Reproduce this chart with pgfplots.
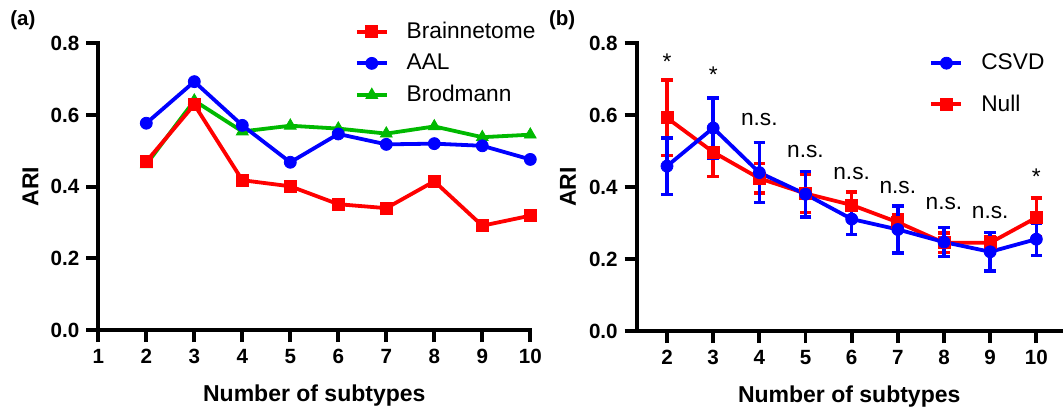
\documentclass[border=0pt]{standalone}
\usepackage{pgfplots}
\pgfplotsset{compat=1.18}
\usepackage{fontspec}
\setmainfont{Liberation Sans}
\definecolor{cred}{RGB}{255,0,0}
\definecolor{cblue}{RGB}{0,0,255}
\definecolor{cgreen}{RGB}{0,185,0}

\newcommand{\legfont}{\fontsize{11.35}{13}\selectfont}
\newcommand{\labfont}{\fontsize{11.5}{13}\selectfont\bfseries}
\newcommand{\tckfont}{\fontsize{10.3}{12}\selectfont\bfseries}

\pgfplotsset{
  panel/.style={
    scale only axis,
    clip=false,
    axis lines*=left,
    axis line style={line width=1.9pt, line cap=rect, black},
    tick style={line width=1.9pt, black},
    major tick length=6pt,
    tick align=outside,
    ymin=0, ymax=0.8,
    ytick={0,0.2,0.4,0.6,0.8},
    /pgf/number format/assume math mode=true,
    tick label style={font=\tckfont},
    yticklabel style={/pgf/number format/.cd, fixed, fixed zerofill, precision=1},
    xlabel={Number of subtypes},
    ylabel={ARI},
    label style={font=\labfont},
    xlabel style={at={(axis description cs:0.5,-0.25)}, anchor=base},
    legend cell align=left,
    legend image code/.code={\draw[mark repeat=2,mark phase=2,##1] plot coordinates {(0pt,0pt) (7.5pt,0pt) (15pt,0pt)};},
    every axis plot/.append style={line width=1.9pt, mark size=3pt, mark options={line width=0.4pt}},
  }
}

\begin{document}
\begin{tikzpicture}
\useasboundingbox (0,0) rectangle (531.5pt,206pt);

\node[anchor=west, inner sep=0pt, font=\fontsize{10.25}{12}\selectfont\bfseries] at (5pt,196pt) {(a)};
\node[anchor=west, inner sep=0pt, font=\fontsize{10.25}{12}\selectfont\bfseries] at (274.35pt,195.8pt) {(b)};

% (a)
\begin{axis}[panel,
  at={(49.15pt,41pt)}, anchor=south west,
  width=216pt, height=143.35pt,
  xmin=1, xmax=10, xtick={1,2,3,4,5,6,7,8,9,10},
  ylabel style={at={(axis description cs:-0.157,0.5)}, anchor=center},
  reverse legend,
  legend style={at={(axis description cs:0.594,0.930)}, anchor=west,
    draw=none, fill=none, font=\legfont, inner sep=0pt, outer sep=0pt,
    nodes={inner sep=0pt}, row sep=6.3pt, column sep=9pt},
]
\addplot[cgreen, mark=triangle*, mark size=3.4pt] coordinates {
(2,0.462) (3,0.640) (4,0.554) (5,0.570) (6,0.562) (7,0.548) (8,0.568) (9,0.538) (10,0.545)};
\addlegendentry{Brodmann}
\addplot[cblue, mark=*] coordinates {
(2,0.577) (3,0.693) (4,0.571) (5,0.468) (6,0.547) (7,0.518) (8,0.520) (9,0.514) (10,0.476)};
\addlegendentry{AAL}
\addplot[cred, mark=square*] coordinates {
(2,0.470) (3,0.629) (4,0.418) (5,0.401) (6,0.351) (7,0.340) (8,0.415) (9,0.291) (10,0.319)};
\addlegendentry{Brainnetome}
\end{axis}

% (b)
\begin{axis}[panel,
  at={(318.35pt,40.5pt)}, anchor=south west,
  width=212.5pt, height=144pt,
  xmin=1.344, xmax=10.55, xtick={2,3,4,5,6,7,8,9,10},
  ylabel style={at={(axis description cs:-0.1616,0.5)}, anchor=center},
  reverse legend,
  legend style={at={(axis description cs:0.689,0.858)}, anchor=west,
    draw=none, fill=none, font=\legfont, inner sep=0pt, outer sep=0pt,
    nodes={inner sep=0pt}, row sep=11pt, column sep=9pt},
  error bars/y dir=both, error bars/y explicit,
  error bars/error bar style={line width=1.7pt},
  error bars/error mark options={rotate=90, line width=1.7pt, mark size=2.9pt},
]
\addplot[cred, mark=square*] coordinates {
(2,0.592) +- (0,0.105)
(3,0.497) +- (0,0.067)
(4,0.424) +- (0,0.041)
(5,0.382) +- (0,0.052)
(6,0.350) +- (0,0.036)
(7,0.302) +- (0,0.021)
(8,0.245) +- (0,0.027)
(9,0.245) +- (0,0.017)
(10,0.315) +- (0,0.054)};
\addlegendentry{Null}
\addplot[cblue, mark=*] coordinates {
(2,0.458) +- (0,0.078)
(3,0.564) +- (0,0.083)
(4,0.440) +- (0,0.083)
(5,0.380) +- (0,0.063)
(6,0.311) +- (0,0.043)
(7,0.282) +- (0,0.065)
(8,0.247) +- (0,0.040)
(9,0.220) +- (0,0.053)
(10,0.255) +- (0,0.045)};
\addlegendentry{CSVD}
\begin{scope}[every node/.style={font=\legfont, inner sep=0pt}]
\node[yshift=-2.55pt] at (axis cs:2,0.762) {*};
\node[yshift=-2.55pt] at (axis cs:3,0.727) {*};
\node at (axis cs:4,0.588) {n.s.};
\node at (axis cs:5,0.498) {n.s.};
\node at (axis cs:6,0.437) {n.s.};
\node at (axis cs:7,0.400) {n.s.};
\node at (axis cs:8,0.354) {n.s.};
\node at (axis cs:9,0.329) {n.s.};
\node[yshift=-2.55pt] at (axis cs:10,0.442) {*};
\end{scope}
\end{axis}
\end{tikzpicture}
\end{document}
